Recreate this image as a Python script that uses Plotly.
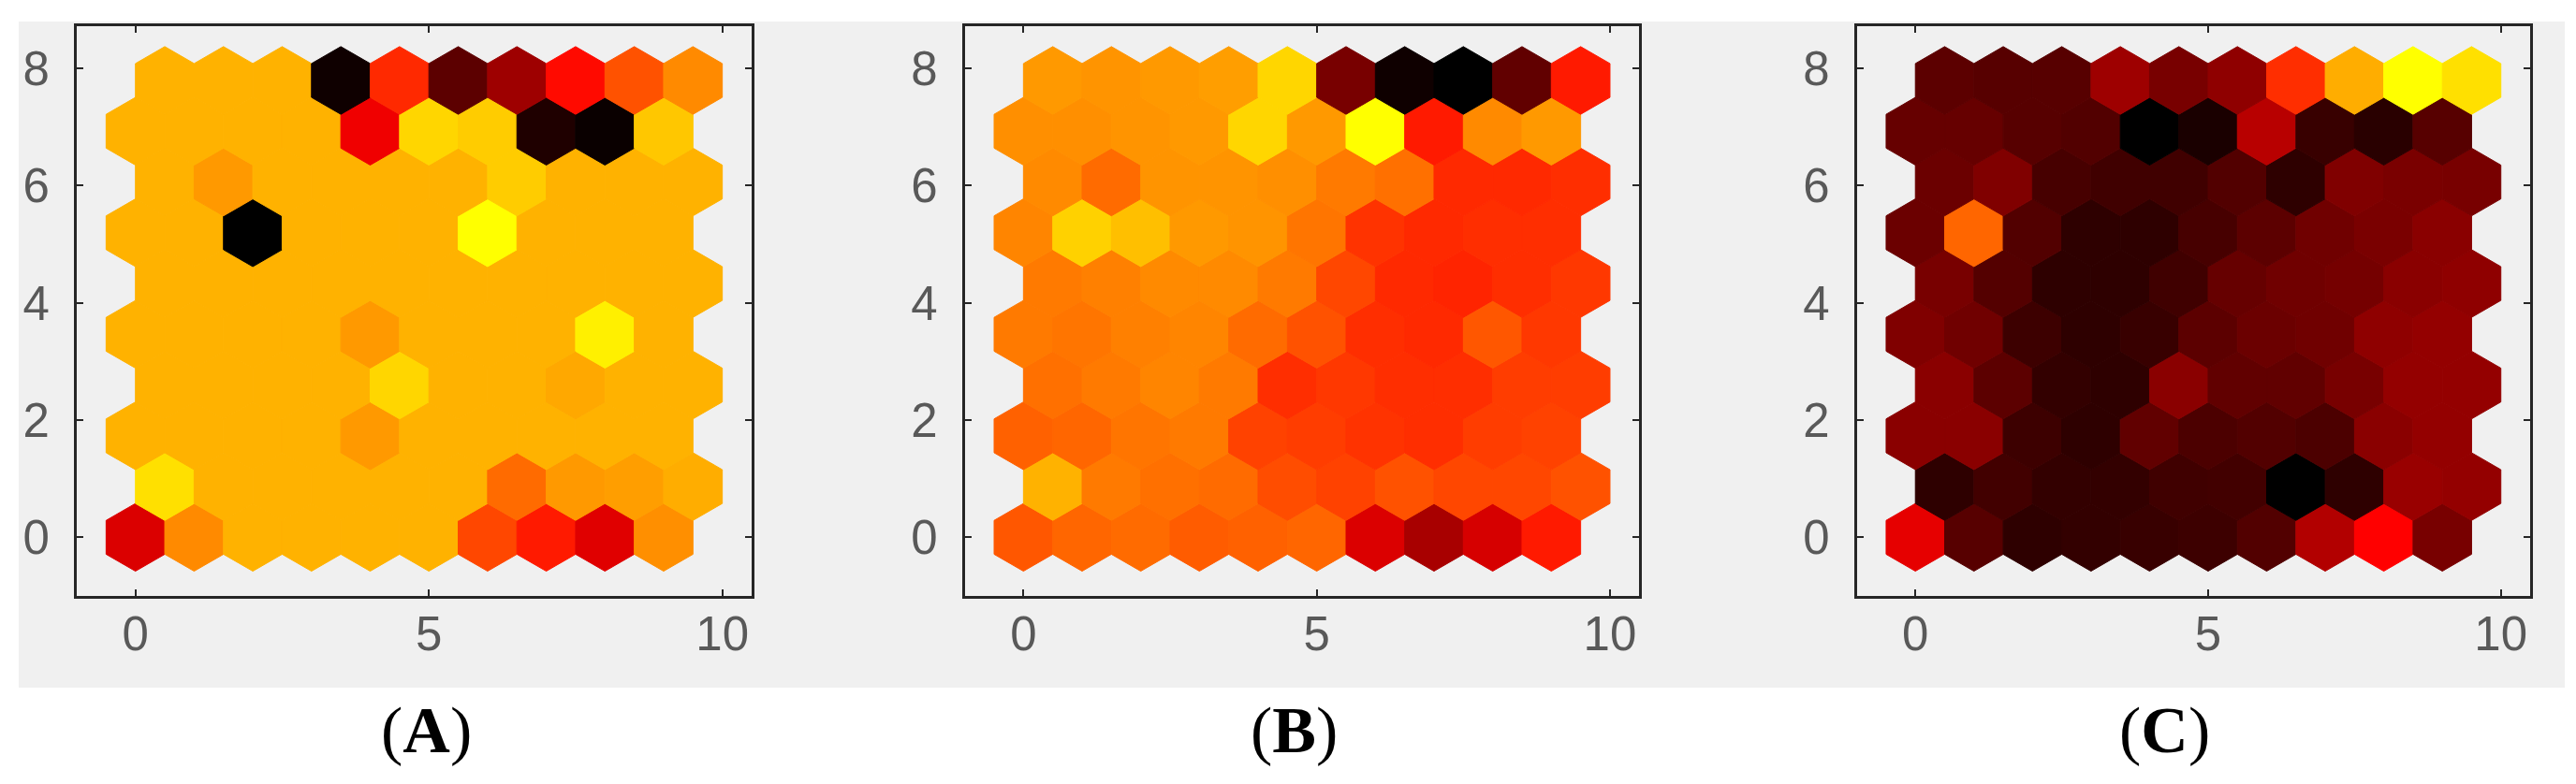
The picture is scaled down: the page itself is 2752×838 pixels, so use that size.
import numpy as np
import plotly.graph_objects as go
from plotly.colors import sample_colorscale

W, H = 2752, 838

# SOM neighbour-weight planes: 10 x 10 hexagonal grid.
# Each list = one row of hexagons, row 0 at the bottom, 10 columns left->right.
# Values are normalised 0..1 (0 = black, 0.5 = red, 1 = yellow).
plane_A = [
    [0.43, 0.77, 0.85, 0.85, 0.85, 0.85, 0.64, 0.55, 0.44, 0.78],
    [0.94, 0.85, 0.85, 0.85, 0.85, 0.85, 0.71, 0.80, 0.81, 0.84],
    [0.85, 0.85, 0.85, 0.85, 0.80, 0.85, 0.85, 0.85, 0.85, 0.85],
    [0.85, 0.85, 0.85, 0.85, 0.92, 0.85, 0.85, 0.83, 0.85, 0.85],
    [0.85, 0.85, 0.85, 0.85, 0.80, 0.85, 0.85, 0.85, 0.97, 0.85],
    [0.85, 0.85, 0.85, 0.85, 0.85, 0.85, 0.85, 0.85, 0.85, 0.85],
    [0.85, 0.85, 0.00, 0.85, 0.85, 0.85, 1.00, 0.85, 0.85, 0.85],
    [0.85, 0.80, 0.85, 0.85, 0.85, 0.85, 0.90, 0.85, 0.85, 0.85],
    [0.85, 0.85, 0.85, 0.85, 0.47, 0.92, 0.90, 0.06, 0.02, 0.89],
    [0.85, 0.85, 0.85, 0.03, 0.58, 0.18, 0.31, 0.52, 0.66, 0.77],
]
plane_B = [
    [0.67, 0.70, 0.71, 0.68, 0.69, 0.70, 0.43, 0.33, 0.42, 0.55],
    [0.85, 0.74, 0.72, 0.71, 0.65, 0.63, 0.66, 0.64, 0.64, 0.66],
    [0.69, 0.70, 0.73, 0.74, 0.63, 0.62, 0.60, 0.59, 0.62, 0.63],
    [0.72, 0.74, 0.76, 0.74, 0.59, 0.61, 0.59, 0.59, 0.62, 0.62],
    [0.74, 0.73, 0.75, 0.76, 0.71, 0.66, 0.59, 0.58, 0.67, 0.61],
    [0.74, 0.75, 0.77, 0.77, 0.74, 0.64, 0.58, 0.57, 0.59, 0.61],
    [0.76, 0.91, 0.875, 0.80, 0.79, 0.73, 0.60, 0.58, 0.59, 0.59],
    [0.77, 0.71, 0.79, 0.79, 0.78, 0.74, 0.72, 0.58, 0.58, 0.59],
    [0.78, 0.78, 0.79, 0.80, 0.92, 0.80, 1.00, 0.55, 0.77, 0.80],
    [0.80, 0.79, 0.80, 0.81, 0.92, 0.235, 0.03, 0.00, 0.19, 0.55],
]
plane_C = [
    [0.45, 0.17, 0.09, 0.10, 0.11, 0.12, 0.16, 0.35, 0.50, 0.235],
    [0.09, 0.13, 0.10, 0.10, 0.125, 0.13, 0.00, 0.09, 0.30, 0.29],
    [0.27, 0.27, 0.12, 0.09, 0.19, 0.15, 0.16, 0.15, 0.27, 0.29],
    [0.27, 0.18, 0.10, 0.09, 0.27, 0.19, 0.19, 0.235, 0.29, 0.29],
    [0.25, 0.22, 0.12, 0.09, 0.11, 0.18, 0.21, 0.22, 0.28, 0.29],
    [0.235, 0.165, 0.09, 0.09, 0.125, 0.20, 0.22, 0.23, 0.27, 0.28],
    [0.21, 0.70, 0.16, 0.09, 0.09, 0.14, 0.18, 0.22, 0.24, 0.27],
    [0.21, 0.25, 0.14, 0.125, 0.125, 0.16, 0.09, 0.25, 0.24, 0.235],
    [0.20, 0.20, 0.17, 0.16, 0.00, 0.05, 0.36, 0.11, 0.08, 0.17],
    [0.18, 0.17, 0.17, 0.31, 0.235, 0.28, 0.59, 0.84, 1.00, 0.94],
]
panel_labels = ["A", "B", "C"]
x_ticks = [0, 5, 10]
y_ticks = [0, 2, 4, 6, 8]

colorscale = [[0.0, "rgb(0,0,0)"], [0.5, "rgb(255,0,0)"], [1.0, "rgb(255,255,0)"]]

# layout geometry (pixels)
x_domains_px = [(74, 795), (1022.7, 1743.3), (1975.7, 2695)]
y_domain_px = (20, 629)
label_x_px = [447, 1374, 2304]
label_y_px = 772

R = 1 / np.sqrt(3)
ang = np.deg2rad(np.arange(30, 391, 60))
hx = R * np.cos(ang)
hy = R * np.sin(ang)

fig = go.Figure()
planes = [plane_A, plane_B, plane_C]
for p, plane in enumerate(planes):
    xa = "x" if p == 0 else f"x{p+1}"
    ya = "y" if p == 0 else f"y{p+1}"
    for r, row in enumerate(plane):
        cols = sample_colorscale(colorscale, row)
        for c, v in enumerate(row):
            cx = c + 0.5 * (r % 2)
            cy = r * np.sqrt(3) / 2
            col = cols[c]
            fig.add_trace(go.Scatter(
                x=cx + hx, y=cy + hy, mode="lines", fill="toself",
                fillcolor=col, line=dict(color=col, width=1),
                hoverinfo="skip", showlegend=False, xaxis=xa, yaxis=ya))

axis_common = dict(
    showgrid=False, zeroline=False, showline=True, linecolor="#262626",
    linewidth=3, mirror="ticks", ticks="inside", ticklen=7, tickwidth=2,
    tickcolor="#262626",
    tickfont=dict(family="Liberation Sans, Arial, sans-serif", size=51, color="#595959"),
)

layout = dict(
    width=W, height=H, margin=dict(l=0, r=0, t=0, b=0),
    paper_bgcolor="white", plot_bgcolor="#808080",
    shapes=[dict(type="rect", xref="paper", yref="paper",
                 x0=12 / W, x1=2732 / W, y0=1 - 727 / H, y1=1 - 15 / H,
                 fillcolor="#f0f0f0", line=dict(width=0), layer="below")],
    annotations=[],
)
yd = [1 - y_domain_px[1] / H, 1 - y_domain_px[0] / H]
for p in range(3):
    sfx = "" if p == 0 else str(p + 1)
    x0, x1 = x_domains_px[p]
    layout[f"xaxis{sfx}"] = dict(axis_common, domain=[x0 / W, x1 / W], range=[-1, 10.5],
                                 tickvals=x_ticks, anchor=f"y{sfx}", ticklabelstandoff=-6)
    layout[f"yaxis{sfx}"] = dict(axis_common, domain=yd, range=[-1, 8.72],
                                 tickvals=y_ticks, anchor=f"x{sfx}", ticklabelstandoff=16)
    layout["annotations"].append(dict(
        text=f"(<b>{panel_labels[p]}</b>)", x=label_x_px[p] / W, y=1 - label_y_px / H,
        xref="paper", yref="paper", xanchor="center", yanchor="middle", showarrow=False,
        font=dict(family="Liberation Serif, Times New Roman, serif", size=70, color="black")))

fig.update_layout(**layout)
fig.write_html("out.html")
